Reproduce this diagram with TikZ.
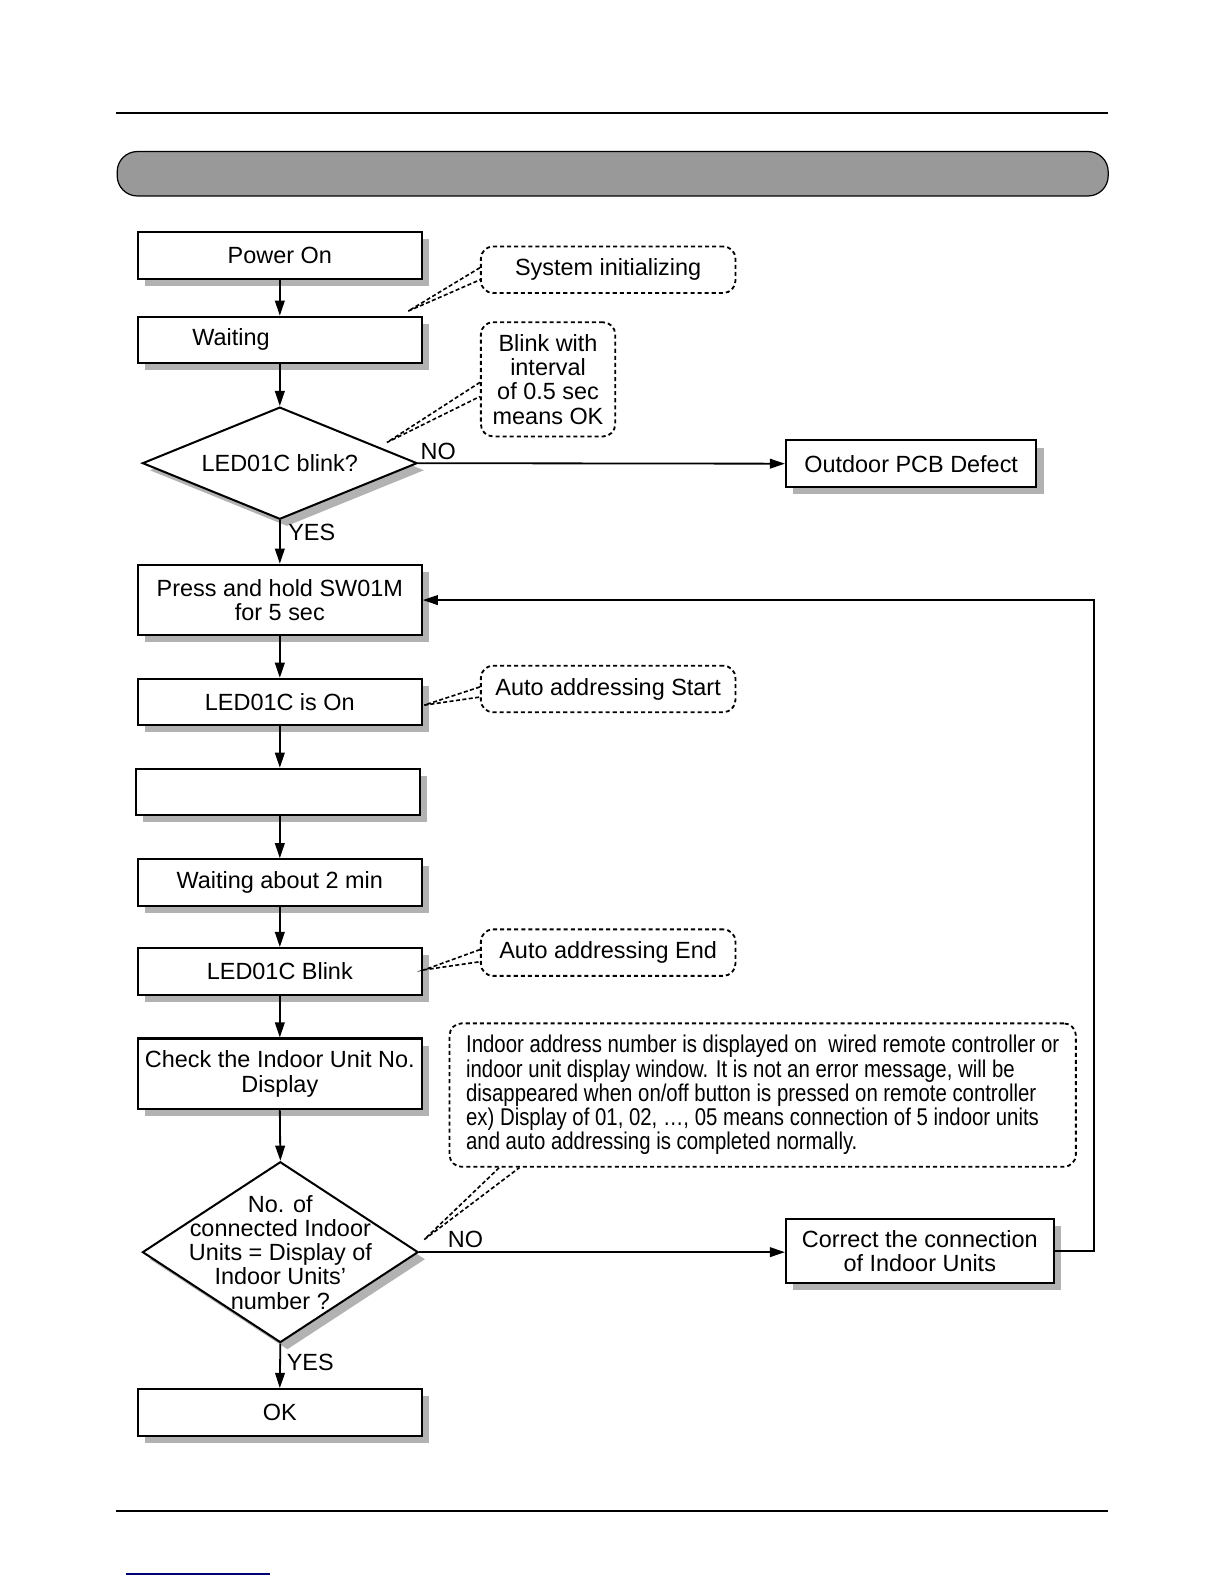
\documentclass[tikz,border=0pt]{standalone}
\usepackage{fontspec}
\setmainfont{Liberation Sans}
\newfontfamily\narrowfont[FakeStretch=0.84]{Liberation Sans}
\usepackage{tikz}
\usetikzlibrary{arrows.meta, calc, shapes.geometric, shadows}

\tikzset{
	boxshadow/.style={drop shadow={shadow xshift=3.5pt, shadow yshift=-3.5pt, fill=black!30, opacity=1}},
	procbox/.style={draw, line width=1pt, fill=white, boxshadow, minimum width=140.5pt, minimum height=23pt, inner sep=2pt, align=center, font=\fontsize{11.6}{12}\selectfont},
	decision/.style={draw, line width=1pt, fill=white, boxshadow, diamond, aspect=2, inner sep=0pt, minimum width=136pt, minimum height=55.5pt, align=center, font=\fontsize{11.6}{12}\selectfont},
	note/.style={draw, line width=0.9pt, dash pattern=on 2pt off 1.5pt, rounded corners=6pt, minimum width=126pt, minimum height=23pt, inner sep=2pt, align=center, font=\fontsize{11.6}{12}\selectfont},
	flow/.style={line width=0.9pt, -{Triangle[length=7.5pt, width=4.8pt]}},
	leader/.style={line width=0.8pt, dash pattern=on 2pt off 1.2pt},
	tag/.style={inner sep=0pt, font=\fontsize{11.6}{12}\selectfont},
}

\begin{document}
\begin{tikzpicture}[x=0.5pt, y=-0.5pt]
	\useasboundingbox (0,0) rectangle (1212,1568);
	
	% page rules and title bar
	\draw [line width=1pt] (115,112) -- (1097,112);
	\draw [line width=1pt] (115,1496) -- (1097,1496);
	\draw [fill=black!40, line width=0.6pt, rounded corners=10pt] (116,150) rectangle (1097,194);
	\draw [line width=0.8pt, blue!45!black] (125,1558) -- (267,1558);
	
	% main column
	\node [procbox] (power) at (277,253) {Power On};
	\node [procbox, align=left, text width=86.5pt, inner xsep=25pt] (waiting) at (277,336.5) {Waiting};
	\node [decision] (blink) at (277,458.5) {LED01C blink?};
	\node [procbox, minimum height=35pt] (press) at (277,594) {Press and hold SW01M\\for 5 sec};
	\node [procbox] (ledon) at (277,695) {LED01C is On};
	\node [procbox] (blank) at (275,784) {};
	\node [procbox] (wait2) at (277,873.5) {Waiting about 2 min};
	\node [procbox] (ledblink) at (277,961.5) {LED01C Blink};
	\node [procbox, minimum height=35pt] (check) at (277,1063) {Check the Indoor Unit No.\\Display};
	\node [decision, minimum width=136.5pt, minimum height=89.5pt] (units) at (277.5,1239.5) {};
	\node [tag, align=center] at (units) {No. of\\connected Indoor\\Units = Display of\\Indoor Units’\\number ?};
	\node [procbox] (ok) at (277,1398) {OK};
	
	% right column
	\node [procbox, minimum width=124pt] (pcb) at (902,459) {Outdoor PCB Defect};
	\node [procbox, minimum width=132.5pt, minimum height=31.5pt] (correct) at (910.5,1238.5) {Correct the connection\\of Indoor Units};
	
	% notes
	\node [note] (sysinit) at (602,267) {System initializing};
	\node [note, minimum width=66.5pt, minimum height=56.5pt] (blinknote) at (542.5,375.5) {Blink with\\interval\\of 0.5 sec\\means OK};
	\node [note] (startnote) at (602,682) {Auto addressing Start};
	\node [note] (endnote) at (602,943) {Auto addressing End};
	\node [note, minimum width=310pt, minimum height=71pt, align=left, font=\narrowfont\fontsize{12}{12}\selectfont] (infonote) at (755,1084) {Indoor address number is displayed on \ wired remote controller or\\indoor unit display window. It is not an error message, will be\\disappeared when on/off button is pressed on remote controller\\ex) Display of 01, 02, …, 05 means connection of 5 indoor units\\and auto addressing is completed normally.};
	
	% flow
	\draw [flow] (power) -- (waiting);
	\draw [flow] (waiting) -- (blink);
	\draw [flow] (blink.south) -- (press.north);
	\draw [flow] (blink.east) -- (pcb.west);
	\draw [flow] (press) -- (ledon);
	\draw [flow] (ledon.south) -- (ledon.south |- blank.north);
	\draw [flow] (blank.south -| wait2.north) -- (wait2.north);
	\draw [flow] (wait2) -- (ledblink);
	\draw [flow] (ledblink) -- (check);
	\draw [flow] (check.south) -- (units.north);
	\draw [flow] (units.south) -- (ok.north);
	\draw [flow] (units.east) -- (units.east -| correct.west);
	\draw [flow] (correct.east) -- ++(39,0) |- (press.east);
	
	\node [tag, anchor=south west] (no1) at ($(blink.east)+(2,-3)$) {NO};
	\node [tag, anchor=north west] (yes1) at ($(blink.south)+(8,3)$) {YES};
	\node [tag, anchor=south west] (no2) at ($(units.east)+(28,-4)$) {NO};
	\node [tag, anchor=north west] (yes2) at ($(units.south)+(6,10)$) {YES};
	
	% leaders
	\coordinate (tipinit) at (404,308);
	\coordinate (tipblink) at (383,438);
	\coordinate (tipstart) at (420,698);
	\coordinate (tipend) at (420,960);
	\coordinate (tipinfo) at (420,1227);
	\draw [leader] ($(sysinit.west)+(0,-2)$) -- (tipinit) -- ($(sysinit.west)+(0,10)$);
	\draw [leader] ($(blinknote.west)+(0,3)$) -- (tipblink) -- ($(blinknote.west)+(0,17)$);
	\draw [leader] ($(startnote.west)+(0,-2)$) -- (tipstart) -- ($(startnote.west)+(0,8)$);
	\draw [leader] ($(endnote.west)+(0,-3)$) -- (tipend) -- ($(endnote.west)+(0,9)$);
	\draw [leader] ($(infonote.south west)+(50,0)$) -- (tipinfo) -- ($(infonote.south west)+(70,0)$);
\end{tikzpicture}
\end{document}
